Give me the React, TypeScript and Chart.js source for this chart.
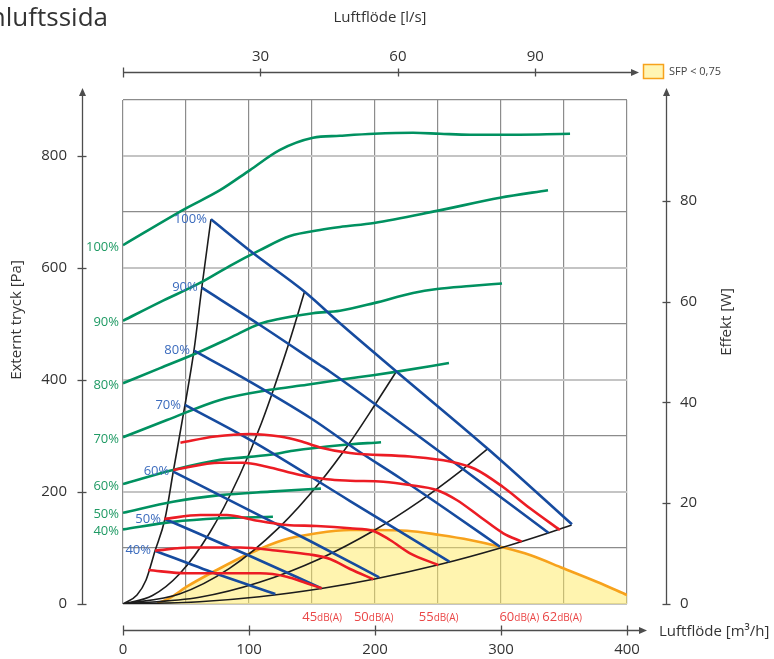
import React, { useEffect, useRef } from 'react';
import { Chart, registerables } from 'chart.js';

Chart.register(...registerables);

const FONT = "'Open Sans', 'Noto Sans', 'DejaVu Sans', sans-serif";

// ---- axis ticks ----
const flowGrid = [0, 50, 100, 150, 200, 250, 300, 350, 400]; // m³/h (bottom)
const flowLabelled = [0, 100, 200, 300, 400];
const litreTicks = [30, 60, 90]; // l/s (top)
const pressureGrid = [0, 100, 200, 300, 400, 500, 600, 700, 800, 900]; // Pa (left)
const pressureLabelled = [0, 200, 400, 600, 800];
const powerTicks = [0, 20, 40, 60, 80]; // W (right)

const speedLabels = ['100%', '90%', '80%', '70%', '60%', '50%', '40%'];
const soundLabels = ['45', '50', '55', '60', '62'];
const soundLabelFlow = [158, 199, 250.5, 314.5, 348.5]; // m³/h where each dB(A) label sits

// ---- green: power [W] vs flow [m³/h] ----
const power100 = [[0, 71.2], [49.2, 78.4], [77.0, 82.1], [100.8, 86.1], [124.6, 90.1], [150.8, 92.5], [172.2, 92.9], [199.2, 93.3], [230.2, 93.5], [251.6, 93.3], [275.4, 93.1], [299.2, 93.1], [354.8, 93.3]];
const power90 = [[0, 56.2], [29.4, 59.9], [61.1, 63.7], [84.9, 67.1], [108.7, 70.2], [132.5, 73.0], [156.3, 74.2], [172.2, 74.8], [199.2, 75.6], [249.2, 78.0], [299.2, 80.6], [337.3, 82.1]];
const power80 = [[0, 43.8], [29.4, 46.8], [58.7, 49.8], [84.9, 52.8], [108.7, 55.6], [124.6, 56.6], [150.8, 57.7], [172.2, 58.2], [199.2, 59.7], [230.2, 61.7], [249.2, 62.5], [275.4, 63.1], [300.8, 63.6]];
const power70 = [[0, 33.1], [34.9, 36.5], [77.0, 40.5], [116.7, 42.5], [146.0, 43.5], [172.2, 44.5], [198.4, 45.4], [217.5, 46.1], [258.7, 47.8]];
const power60 = [[0, 23.8], [39.7, 26.6], [77.0, 28.6], [116.7, 29.6], [134.9, 30.4], [172.2, 31.5], [204.8, 32.1]];
const power50 = [[0, 18.1], [39.7, 20.3], [77.0, 21.6], [116.7, 22.3], [157.1, 22.9]];
const power40 = [[0, 14.8], [39.7, 16.3], [77.0, 17.0], [119.0, 17.3]];

// ---- blue: pressure [Pa] vs flow ----
const pressure100 = [[69.8, 687], [103.4, 626.3], [144.4, 557.1], [172.2, 501.3], [217.2, 414.8], [289.7, 276.8], [356.3, 142.3]];
const pressure90 = [[62.5, 564.8], [108.7, 498.2], [156.3, 426.8], [164.3, 414.8], [251.6, 271.4], [337.6, 127.3]];
const pressure80 = [[56.3, 452.3], [92.9, 407.1], [150.0, 330.4], [185.5, 275.0], [219.8, 225.0], [259.5, 164.3], [299.2, 102.3]];
const pressure70 = [[49.2, 355.4], [100.8, 292.9], [180.2, 183.9], [259.0, 75.5]];
const pressure60 = [[39.9, 236.3], [100.8, 166.8], [148.4, 112.5], [203.3, 47.7]];
const pressure50 = [[33.3, 151.8], [100.8, 85.7], [157.7, 28.0]];
const pressure40 = [[25.4, 95.2], [73.0, 54.8], [120.9, 17.9]];

// ---- red: sound level curves [Pa] ----
const sound45 = [[20.1, 60.7], [50.6, 54.8], [108.7, 54.8], [129.9, 48.8], [145.8, 37.0], [157.7, 28.0]];
const sound50 = [[25.4, 95.2], [53.2, 100.9], [92.9, 100.9], [124.6, 94.6], [148.4, 88.4], [164.3, 80.4], [180.2, 62.5], [198.7, 44.1]];
const sound55 = [[32.8, 151.8], [61.4, 158.9], [82.3, 158.9], [103.4, 150.0], [129.9, 141.1], [153.7, 139.3], [180.2, 135.2], [198.7, 130.4], [211.9, 114.3], [227.8, 90.5], [250.2, 69.6]];
const sound60 = [[39.9, 239.3], [77.0, 252.3], [95.5, 252.3], [114.1, 245.2], [140.5, 230.4], [161.7, 222.7], [180.2, 220.2], [206.6, 218.4], [227.8, 212.5], [249.0, 203.6], [264.8, 185.7], [283.3, 155.9], [301.8, 126.3], [316.4, 111.3]];
const sound62 = [[45.6, 288.0], [73.0, 299.1], [100.8, 303.6], [124.6, 299.1], [140.5, 291.1], [156.3, 279.5], [180.2, 269.6], [227.8, 263.4], [259.5, 254.5], [279.4, 241.1], [301.6, 208.9], [323.0, 170.9], [346.8, 132.1]];

// ---- black: system curves [Pa] ----
const system1 = [[0, 0], [11.1, 16.1], [18.3, 42.9], [25.4, 94.6], [33.3, 151.8], [39.9, 236.6], [49.2, 355.4], [56.3, 452.3], [62.5, 564.3], [69.8, 687.0]];
const system2 = [[0, 0], [23.4, 15.2], [44.8, 53.6], [68.7, 126.8], [92.5, 229.5], [109.9, 323.2], [132.1, 468.8], [144.0, 557.1]];
const system3 = [[0, 0], [44.8, 17.9], [84.5, 63.6], [124.2, 137.3], [156.0, 216.4], [179.8, 287.5], [199.6, 354.5], [216.8, 414.8]];
const system4 = [[0, 0], [60.7, 12.1], [108.3, 38.8], [155.9, 80.4], [198.8, 130.7], [235.3, 183.2], [267.1, 235.9], [289.3, 276.8]];
const system5 = [[0, 0], [60.7, 4.1], [108.3, 13.0], [157.5, 27.7], [198.8, 44.1], [251.2, 70.4], [298.8, 99.5], [336.9, 126.4], [356.0, 141.1]];

// ---- orange: SFP < 0,75 limit [Pa] ----
const sfpLimit = [[27.4, 1.0], [37.3, 11.0], [50.6, 30.9], [74.4, 60.7], [99.5, 89.3], [127.2, 114.3], [153.7, 126.3], [180.2, 132.1], [199.2, 132.1], [225.4, 130.9], [251.6, 123.2], [275.4, 114.3], [299.2, 102.3], [323.0, 87.5], [349.4, 63.8], [375.9, 39.8], [400, 16.1]];

const powerSeries = [power100, power90, power80, power70, power60, power50, power40];
const pressureSeries = [pressure100, pressure90, pressure80, pressure70, pressure60, pressure50, pressure40];
const soundSeries = [sound45, sound50, sound55, sound60, sound62];
const systemSeries = [system1, system2, system3, system4, system5];

const GREEN = '#009160';
const GREEN_TXT = '#1f9a64';
const BLUE = '#164b9f';
const BLUE_TXT = '#3b6bbd';
const RED = '#ec1c24';
const RED_TXT = '#ea4646';
const BLACK = '#1c1c1c';
const ORANGE = '#f7a21c';
const AXIS = '#4d4d4d';
const TEXT = '#333333';

const toXY = (pts: number[][]) => pts.map(([a, b]) => ({ x: a, y: b }));

const line = (ctx: CanvasRenderingContext2D, x1: number, y1: number, x2: number, y2: number) => {
  ctx.beginPath();
  ctx.moveTo(x1, y1);
  ctx.lineTo(x2, y2);
  ctx.stroke();
};

const arrowHead = (ctx: CanvasRenderingContext2D, x: number, y: number, dir: 'up' | 'right') => {
  ctx.beginPath();
  if (dir === 'up') {
    ctx.moveTo(x, y);
    ctx.lineTo(x - 3.5, y + 8);
    ctx.lineTo(x + 3.5, y + 8);
  } else {
    ctx.moveTo(x, y);
    ctx.lineTo(x - 8, y - 3.5);
    ctx.lineTo(x - 8, y + 3.5);
  }
  ctx.closePath();
  ctx.fill();
};

const noPad = (s: any) => {
  s.paddingTop = 0;
  s.paddingBottom = 0;
  s.paddingLeft = 0;
  s.paddingRight = 0;
};

const decor = {
  id: 'decor',
  afterDraw(chart: any) {
    const ctx: CanvasRenderingContext2D = chart.ctx;
    const sx = chart.scales.x;
    const sy = chart.scales.y;
    const sy2 = chart.scales.y2;
    const st = chart.scales.xTop;
    ctx.save();

    // ---- axis lines, ticks, arrows ----
    ctx.strokeStyle = AXIS;
    ctx.fillStyle = AXIS;
    ctx.lineWidth = 1.3;
    const x0 = sx.getPixelForValue(0);
    const x400 = sx.getPixelForValue(400);

    // bottom
    const bY = 630.5;
    line(ctx, x0, bY, x400 + 14, bY);
    arrowHead(ctx, x400 + 20, bY, 'right');
    flowLabelled.forEach((v) => {
      const px = Math.round(sx.getPixelForValue(v)) + 0.5;
      line(ctx, px, bY - 5, px, bY + 5);
    });

    // top
    const tY = 72.5;
    line(ctx, x0, tY, x400 + 6, tY);
    arrowHead(ctx, x400 + 12, tY, 'right');
    line(ctx, Math.round(x0) + 0.5, tY - 5, Math.round(x0) + 0.5, tY + 5);
    litreTicks.forEach((v) => {
      const px = Math.round(st.getPixelForValue(v)) + 0.5;
      line(ctx, px, tY - 4, px, tY + 4);
    });

    // left
    const lX = 82.5;
    const yBottom = sy.getPixelForValue(0);
    line(ctx, lX, yBottom, lX, 95);
    arrowHead(ctx, lX, 88, 'up');
    pressureLabelled.forEach((v) => {
      const py = Math.round(sy.getPixelForValue(v)) + 0.5;
      line(ctx, lX - 5, py, lX + 4, py);
    });

    // right
    const rX = 666.5;
    line(ctx, rX, yBottom, rX, 95);
    arrowHead(ctx, rX, 88, 'up');
    powerTicks.forEach((v) => {
      const py = Math.round(sy2.getPixelForValue(v)) + 0.5;
      line(ctx, rX - 4, py, rX + 4, py);
    });

    // ---- titles ----
    ctx.fillStyle = TEXT;
    ctx.textBaseline = 'alphabetic';
    ctx.font = `26px ${FONT}`;
    ctx.textAlign = 'right';
    ctx.fillText('Frånluftssida', 108, 26);

    ctx.font = `15px ${FONT}`;
    ctx.textAlign = 'center';
    ctx.textBaseline = 'middle';
    ctx.fillText('Luftflöde [l/s]', 380, 18);
    ctx.textAlign = 'left';
    ctx.fillText('Luftflöde [m³/h]', 659, 632);

    ctx.save();
    ctx.translate(17, 320);
    ctx.rotate(-Math.PI / 2);
    ctx.textAlign = 'center';
    ctx.fillText('Externt tryck [Pa]', 0, 0);
    ctx.restore();

    ctx.save();
    ctx.translate(727, 322);
    ctx.rotate(-Math.PI / 2);
    ctx.textAlign = 'center';
    ctx.fillText('Effekt [W]', 0, 0);
    ctx.restore();

    // ---- legend ----
    ctx.fillStyle = '#fff5b4';
    ctx.fillRect(643.5, 64.5, 20, 14);
    ctx.strokeStyle = ORANGE;
    ctx.lineWidth = 1.5;
    ctx.strokeRect(643.5, 64.5, 20, 14);
    ctx.fillStyle = '#444';
    ctx.font = `11px ${FONT}`;
    ctx.textAlign = 'left';
    ctx.textBaseline = 'middle';
    ctx.fillText('SFP < 0,75', 669, 72);

    // ---- curve labels ----
    ctx.font = `13px ${FONT}`;
    ctx.textAlign = 'right';
    ctx.textBaseline = 'middle';
    powerSeries.forEach((s, i) => {
      ctx.fillStyle = GREEN_TXT;
      ctx.fillText(speedLabels[i], 119, sy2.getPixelForValue(s[0][1]) + 2);
    });
    pressureSeries.forEach((s, i) => {
      ctx.fillStyle = BLUE_TXT;
      ctx.fillText(speedLabels[i], sx.getPixelForValue(s[0][0]) - 4, sy.getPixelForValue(s[0][1]));
    });

    // sound labels below the chart area
    ctx.textBaseline = 'alphabetic';
    ctx.textAlign = 'left';
    ctx.fillStyle = RED_TXT;
    soundLabels.forEach((lab, i) => {
      const cx = sx.getPixelForValue(soundLabelFlow[i]);
      ctx.font = `13px ${FONT}`;
      const w1 = ctx.measureText(lab).width;
      ctx.font = `10px ${FONT}`;
      const w2 = ctx.measureText('dB(A)').width;
      const start = cx - (w1 + w2) / 2;
      ctx.font = `13px ${FONT}`;
      ctx.fillText(lab, start, 621);
      ctx.font = `10px ${FONT}`;
      ctx.fillText('dB(A)', start + w1, 621);
    });

    ctx.restore();
  },
};

export default function App() {
  const ref = useRef<HTMLCanvasElement>(null);

  useEffect(() => {
    const canvas = ref.current;
    if (!canvas) return;

    const base = { pointRadius: 0, pointHoverRadius: 0, cubicInterpolationMode: 'monotone', fill: false };

    const datasets: any[] = [];
    datasets.push({
      ...base,
      label: 'SFP < 0,75',
      data: toXY(sfpLimit),
      borderColor: ORANGE,
      borderWidth: 2.6,
      fill: 'origin',
      backgroundColor: 'rgba(255,234,96,0.5)',
      yAxisID: 'y',
      order: 50,
    });
    systemSeries.forEach((s, i) => {
      datasets.push({ ...base, label: `system ${i + 1}`, data: toXY(s), borderColor: BLACK, borderWidth: 1.6, yAxisID: 'y', order: 40 });
    });
    powerSeries.forEach((s, i) => {
      datasets.push({ ...base, label: `Effekt ${speedLabels[i]}`, data: toXY(s), borderColor: GREEN, borderWidth: 2.6, yAxisID: 'y2', order: 30 });
    });
    pressureSeries.forEach((s, i) => {
      datasets.push({ ...base, label: `Tryck ${speedLabels[i]}`, data: toXY(s), borderColor: BLUE, borderWidth: 2.6, yAxisID: 'y', order: 20 });
    });
    soundSeries.forEach((s, i) => {
      datasets.push({ ...base, label: `${soundLabels[i]} dB(A)`, data: toXY(s), borderColor: RED, borderWidth: 2.6, yAxisID: 'y', order: 10 });
    });

    const tickFont = { family: FONT, size: 15 };

    const chart = new Chart(canvas, {
      type: 'line',
      data: { datasets },
      plugins: [decor],
      options: {
        animation: false,
        responsive: false,
        devicePixelRatio: 1,
        events: [],
        layout: { padding: 0 },
        plugins: { legend: { display: false }, tooltip: { enabled: false }, title: { display: false } },
        scales: {
          x: {
            type: 'linear',
            position: 'bottom',
            min: 0,
            max: 400,
            afterBuildTicks: (s: any) => { s.ticks = flowGrid.map((v) => ({ value: v })); },
            afterFit: (s: any) => { s.height = 55; noPad(s); },
            ticks: {
              autoSkip: false,
              maxRotation: 0,
              padding: 37,
              color: TEXT,
              font: tickFont,
              callback: (v: any) => (flowLabelled.includes(Number(v)) ? String(v) : ''),
            },
            grid: { color: '#8c8c8c', lineWidth: 1.2, drawTicks: false },
            border: { display: false },
          },
          xTop: {
            type: 'linear',
            position: 'top',
            min: 0,
            max: 110,
            afterBuildTicks: (s: any) => { s.ticks = litreTicks.map((v) => ({ value: v })); },
            afterFit: (s: any) => { s.height = 100; noPad(s); },
            ticks: { autoSkip: false, maxRotation: 0, padding: 34, color: TEXT, font: tickFont },
            grid: { drawOnChartArea: false, drawTicks: false },
            border: { display: false },
          },
          y: {
            type: 'linear',
            position: 'left',
            min: 0,
            max: 900,
            afterBuildTicks: (s: any) => { s.ticks = pressureGrid.map((v) => ({ value: v })); },
            afterFit: (s: any) => { s.width = 123; noPad(s); },
            ticks: {
              autoSkip: false,
              padding: 56,
              color: TEXT,
              font: tickFont,
              callback: (v: any) => (pressureLabelled.includes(Number(v)) ? String(v) : ''),
            },
            grid: {
              drawTicks: false,
              color: (c: any) => (c.tick && pressureLabelled.includes(c.tick.value) ? '#c4c4c4' : '#8c8c8c'),
              lineWidth: (c: any) => (c.tick && pressureLabelled.includes(c.tick.value) ? 2 : 1.2),
            },
            border: { display: false },
          },
          y2: {
            type: 'linear',
            position: 'right',
            min: 0,
            max: 100,
            afterBuildTicks: (s: any) => { s.ticks = powerTicks.map((v) => ({ value: v })); },
            afterFit: (s: any) => { s.width = 147; noPad(s); },
            ticks: { autoSkip: false, padding: 53, color: TEXT, font: tickFont },
            grid: { drawOnChartArea: false, drawTicks: false },
            border: { display: false },
          },
        },
      } as any,
    });

    return () => chart.destroy();
  }, []);

  return (
    <div style={{ position: 'absolute', left: 0, top: 0, width: 774, height: 659, background: '#ffffff' }}>
      <canvas ref={ref} width={774} height={659} style={{ display: 'block', width: 774, height: 659 }} />
    </div>
  );
}
